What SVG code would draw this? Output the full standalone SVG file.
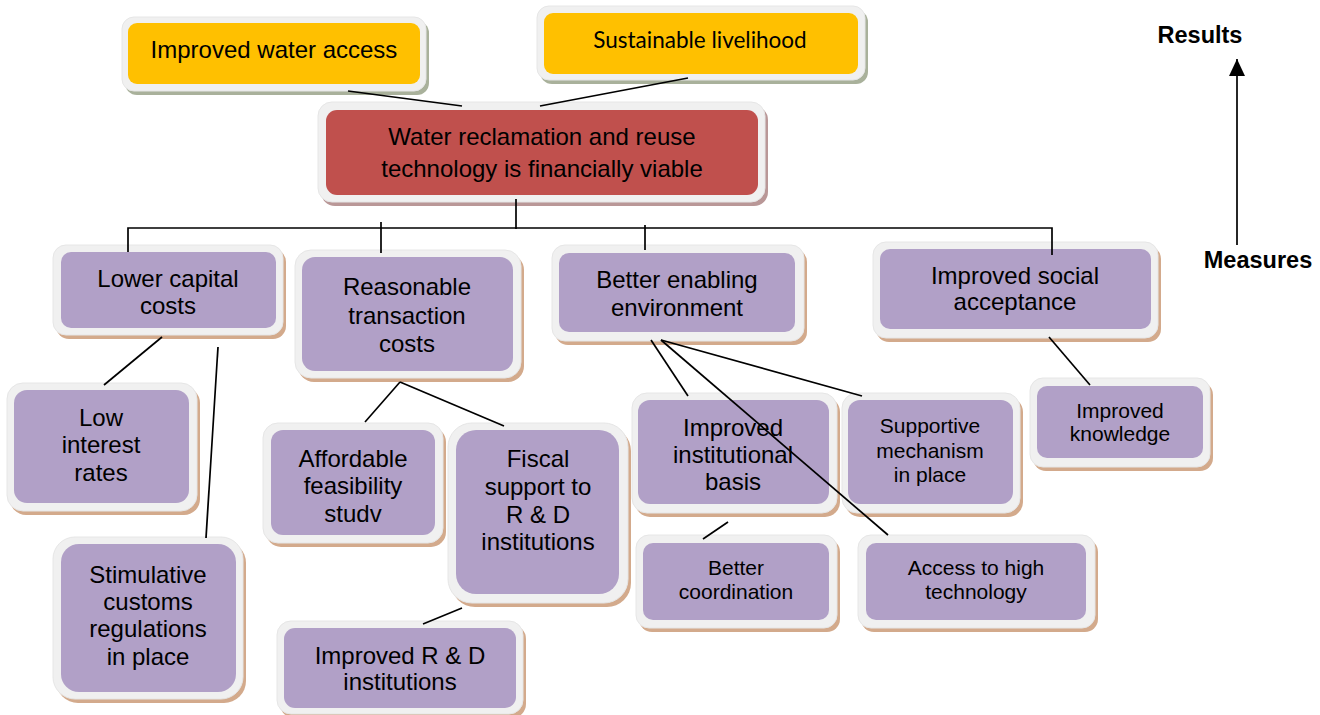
<svg xmlns="http://www.w3.org/2000/svg" width="1320" height="715" viewBox="0 0 1320 715">
  <defs>
    <marker id="arrowhead" markerWidth="17" markerHeight="16" refX="17" refY="8" orient="auto" markerUnits="userSpaceOnUse" viewBox="0 0 17 16">
      <path d="M0,0 L17,8 L0,16 Z" fill="#000"/>
    </marker>
  </defs>
  <style>
    .bg { fill: #ffffff; }
    .frame { fill: #f0f0f0; stroke: #e6e6e6; stroke-width: 1; }
    .sh-p { fill: #d3aa8c; }
    .sh-y { fill: #a9b19b; }
    .sh-r { fill: #b99797; }
    .in-p { fill: #b1a0c7; }
    .in-y { fill: #ffc000; }
    .in-r { fill: #c0504d; }
    .t { font-family: "Liberation Sans", Arial, sans-serif; font-size: 24px; text-anchor: middle; fill: #000; }
    .ts { font-family: "Liberation Sans", Arial, sans-serif; font-size: 21px; text-anchor: middle; fill: #000; }
    .tc { font-family: Lato, "Open Sans", sans-serif; font-size: 22.5px; text-anchor: middle; fill: #000; }
    .tb { font-family: "Liberation Sans", Arial, sans-serif; font-size: 23.5px; font-weight: bold; text-anchor: middle; fill: #000; }
    .link { stroke: #000; stroke-width: 1.7; fill: none; }
  </style>

  <rect class="bg" x="0" y="0" width="1320" height="715"/>

  <!-- results -->
  <g id="n-water">
    <rect class="sh-y" x="125" y="21" width="304" height="74" rx="12"/>
    <rect class="frame" x="122" y="17" width="304" height="74" rx="12"/>
    <rect class="in-y" x="128" y="23" width="292" height="61" rx="9"/>
    <text class="t" x="274" y="58">Improved water access</text>
  </g>
  <g id="n-livelihood">
    <rect class="sh-y" x="540" y="10" width="328" height="74" rx="12"/>
    <rect class="frame" x="537" y="6" width="328" height="74" rx="12"/>
    <rect class="in-y" x="544" y="13" width="314" height="61" rx="9"/>
    <text class="tc" x="700" y="48">Sustainable livelihood</text>
  </g>
  <g id="n-viable">
    <rect class="sh-r" x="321" y="106" width="447" height="100" rx="14"/>
    <rect class="frame" x="318" y="102" width="447" height="100" rx="14"/>
    <rect class="in-r" x="326" y="110" width="432" height="85" rx="11"/>
    <text class="t" x="542" y="145">Water reclamation and reuse</text>
    <text class="t" x="542" y="177">technology is financially viable</text>
  </g>

  <!-- measures -->
  <g id="n-capital">
    <rect class="sh-p" x="56" y="249" width="230" height="90" rx="13"/>
    <rect class="frame" x="53" y="245" width="230" height="90" rx="13"/>
    <rect class="in-p" x="61" y="252" width="215" height="76" rx="10"/>
    <text class="t" x="168" y="287">Lower capital</text>
    <text class="t" x="168" y="314">costs</text>
  </g>
  <g id="n-interest">
    <rect class="sh-p" x="10" y="387" width="190" height="128" rx="16"/>
    <rect class="frame" x="7" y="383" width="190" height="128" rx="16"/>
    <rect class="in-p" x="14" y="390" width="175" height="113" rx="13"/>
    <text class="t" x="101" y="426">Low</text>
    <text class="t" x="101" y="453">interest</text>
    <text class="t" x="101" y="481">rates</text>
  </g>
  <g id="n-customs">
    <rect class="sh-p" x="56" y="541" width="190" height="162" rx="22"/>
    <rect class="frame" x="53" y="537" width="190" height="162" rx="22"/>
    <rect class="in-p" x="61" y="544" width="175" height="148" rx="18"/>
    <text class="t" x="148" y="583">Stimulative</text>
    <text class="t" x="148" y="610">customs</text>
    <text class="t" x="148" y="637">regulations</text>
    <text class="t" x="148" y="665">in place</text>
  </g>
  <g id="n-transaction">
    <rect class="sh-p" x="298" y="254" width="226" height="128" rx="16"/>
    <rect class="frame" x="295" y="250" width="226" height="128" rx="16"/>
    <rect class="in-p" x="302" y="257" width="211" height="114" rx="13"/>
    <text class="t" x="407" y="295">Reasonable</text>
    <text class="t" x="407" y="324">transaction</text>
    <text class="t" x="407" y="352">costs</text>
  </g>
  <g id="n-enabling">
    <rect class="sh-p" x="555" y="249" width="252" height="96" rx="13"/>
    <rect class="frame" x="552" y="245" width="252" height="96" rx="13"/>
    <rect class="in-p" x="559" y="253" width="236" height="79" rx="10"/>
    <text class="t" x="677" y="288">Better enabling</text>
    <text class="t" x="677" y="316">environment</text>
  </g>
  <g id="n-social">
    <rect class="sh-p" x="876" y="246" width="285" height="96" rx="13"/>
    <rect class="frame" x="873" y="242" width="285" height="96" rx="13"/>
    <rect class="in-p" x="880" y="249" width="271" height="80" rx="10"/>
    <text class="t" x="1015" y="284">Improved social</text>
    <text class="t" x="1015" y="310">acceptance</text>
  </g>
  <g id="n-knowledge">
    <rect class="sh-p" x="1033" y="382" width="180" height="89" rx="13"/>
    <rect class="frame" x="1030" y="378" width="180" height="89" rx="13"/>
    <rect class="in-p" x="1037" y="386" width="166" height="72" rx="10"/>
    <text class="ts" x="1120" y="418">Improved</text>
    <text class="ts" x="1120" y="441">knowledge</text>
  </g>
  <g id="n-institutional">
    <rect class="sh-p" x="635" y="397" width="205" height="120" rx="15"/>
    <rect class="frame" x="632" y="393" width="205" height="120" rx="15"/>
    <rect class="in-p" x="638" y="400" width="191" height="104" rx="12"/>
    <text class="t" x="733" y="436">Improved</text>
    <text class="t" x="733" y="463">institutional</text>
    <text class="t" x="733" y="490">basis</text>
  </g>
  <g id="n-supportive">
    <rect class="sh-p" x="845" y="397" width="178" height="120" rx="15"/>
    <rect class="frame" x="842" y="393" width="178" height="120" rx="15"/>
    <rect class="in-p" x="848" y="400" width="165" height="104" rx="12"/>
    <text class="ts" x="930" y="433">Supportive</text>
    <text class="ts" x="930" y="458">mechanism</text>
    <text class="ts" x="930" y="482">in place</text>
  </g>
  <g id="n-coordination">
    <rect class="sh-p" x="639" y="539" width="201" height="93" rx="13"/>
    <rect class="frame" x="636" y="535" width="201" height="93" rx="13"/>
    <rect class="in-p" x="643" y="543" width="186" height="77" rx="10"/>
    <text class="ts" x="736" y="575">Better</text>
    <text class="ts" x="736" y="599">coordination</text>
  </g>
  <g id="n-technology">
    <rect class="sh-p" x="861" y="539" width="237" height="93" rx="13"/>
    <rect class="frame" x="858" y="535" width="237" height="93" rx="13"/>
    <rect class="in-p" x="866" y="543" width="220" height="77" rx="10"/>
    <text class="ts" x="976" y="575">Access to high</text>
    <text class="ts" x="976" y="599">technology</text>
  </g>
  <g id="n-feasibility">
    <rect class="sh-p" x="266" y="427" width="180" height="120" rx="15"/>
    <rect class="frame" x="263" y="423" width="180" height="120" rx="15"/>
    <rect class="in-p" x="271" y="430" width="164" height="105" rx="12"/>
    <text class="t" x="353" y="467">Affordable</text>
    <text class="t" x="353" y="494">feasibility</text>
    <text class="t" x="353" y="522">studv</text>
  </g>
  <g id="n-fiscal">
    <rect class="sh-p" x="451" y="427" width="180" height="180" rx="24"/>
    <rect class="frame" x="448" y="423" width="180" height="180" rx="24"/>
    <rect class="in-p" x="456" y="430" width="163" height="164" rx="20"/>
    <text class="t" x="538" y="467">Fiscal</text>
    <text class="t" x="538" y="495">support to</text>
    <text class="t" x="538" y="523">R &amp; D</text>
    <text class="t" x="538" y="550">institutions</text>
  </g>
  <g id="n-rnd">
    <rect class="sh-p" x="280" y="625" width="246" height="93" rx="14"/>
    <rect class="frame" x="277" y="621" width="246" height="93" rx="14"/>
    <rect class="in-p" x="284" y="628" width="232" height="80" rx="11"/>
    <text class="t" x="400" y="664">Improved R &amp; D</text>
    <text class="t" x="400" y="690">institutions</text>
  </g>

  <!-- connectors, drawn over the boxes -->
  <g id="connectors">
    <line class="link" x1="348" y1="91" x2="462" y2="106"/>
    <line class="link" x1="688" y1="78" x2="540" y2="106"/>
    <line class="link" x1="516" y1="199" x2="516" y2="229"/>
    <polyline class="link" points="128,252 128,228 1052,228 1052,255"/>
    <line class="link" x1="381" y1="222" x2="381" y2="253"/>
    <line class="link" x1="645" y1="225" x2="645" y2="250"/>
    <line class="link" x1="162" y1="337" x2="104" y2="385"/>
    <line class="link" x1="218" y1="347" x2="206" y2="538"/>
    <line class="link" x1="400" y1="382" x2="365" y2="422"/>
    <line class="link" x1="400" y1="382" x2="504" y2="426"/>
    <line class="link" x1="462" y1="608" x2="423" y2="624"/>
    <line class="link" x1="651" y1="340" x2="688" y2="396"/>
    <line class="link" x1="661" y1="340" x2="862" y2="396"/>
    <line class="link" x1="661" y1="340" x2="888" y2="535"/>
    <line class="link" x1="728" y1="522" x2="703" y2="539"/>
    <line class="link" x1="1049" y1="337" x2="1090" y2="385"/>
  </g>

  <!-- direction legend -->
  <g id="legend">
    <text class="tb" x="1200" y="43">Results</text>
    <line class="link" x1="1237" y1="245" x2="1237" y2="59" marker-end="url(#arrowhead)"/>
    <text class="tb" x="1258" y="268">Measures</text>
  </g>
</svg>
